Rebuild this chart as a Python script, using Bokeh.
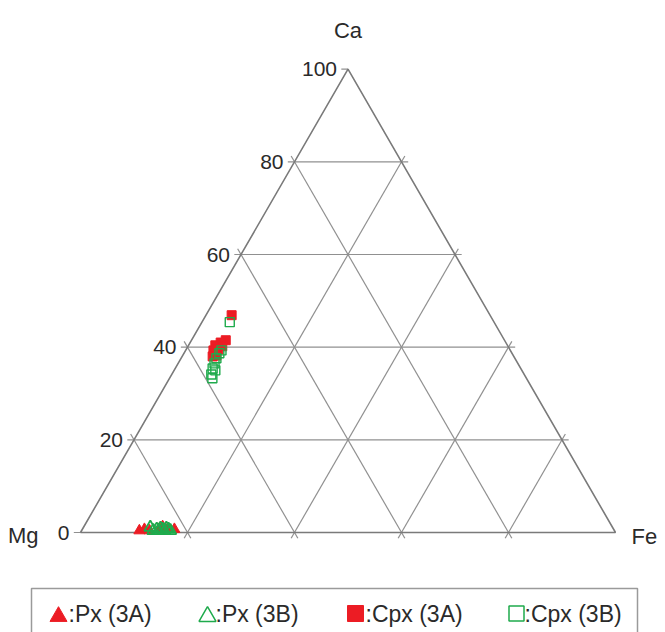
import math
from bokeh.plotting import figure
from bokeh.models import Range1d
from bokeh.core.properties import value
from bokeh.embed import file_html
from bokeh.resources import INLINE

# ---------------- data (wt. % Ca / Fe, Mg = 100 - Ca - Fe) ----------------
px3a_ca = [0.4, 0.7, 0.4, 0.7, 1.3, 0.7, 0.7]
px3a_fe = [10.8, 11.6, 12.7, 14.3, 14.7, 15.9, 17.2]

px3b_ca = [1.1, 0.4, 0.7, 0.4, 0.9, 0.7, 0.4, 0.9, 0.7, 0.4]
px3b_fe = [12.5, 13.4, 13.9, 14.4, 14.5, 15.0, 15.5, 15.6, 16.1, 16.6]

cpx3a_ca = [46.9, 41.5, 41.0, 40.4, 40.2, 39.3, 39.5, 38.0, 38.2]
cpx3a_fe = [4.8, 6.4, 5.7, 5.0, 6.4, 5.2, 6.0, 5.7, 6.3]

cpx3b_ca = [45.4, 38.7, 37.6, 36.5, 35.4, 35.0, 34.1, 33.3, 39.3]
cpx3b_fe = [5.2, 6.6, 6.6, 6.8, 7.0, 7.7, 7.4, 8.0, 6.7]

tick_values = [0, 20, 40, 60, 80, 100]
tick_labels = ["0", "20", "40", "60", "80", "100"]
grid_levels = [20, 40, 60, 80]
vertex_labels = ["Mg", "Fe", "Ca"]
legend_labels = [":Px (3A)", ":Px (3B)", ":Cpx (3A)", ":Cpx (3B)"]

RED = "#ec1c24"
GREEN = "#1faa4c"
GRID = "#909090"
EDGE = "#7a7a7a"
TXT = "#2a2a2a"
FONT = value("Liberation Sans")

H = math.sqrt(3) / 2


def tern(ca, fe):
    """ternary -> cartesian (Mg at origin, Fe at (100,0), Ca at top)"""
    xs = [f + c / 2 for c, f in zip(ca, fe)]
    ys = [c * H for c in ca]
    return xs, ys


# ---------------- figure ----------------
W, HT = 665, 632
PXU = 5.35  # pixels per unit
x0 = -80 / PXU
y0 = -(HT - 532) / PXU
p = figure(width=W, height=HT, output_backend="svg", toolbar_location=None,
           x_range=Range1d(x0, x0 + W / PXU), y_range=Range1d(y0, y0 + HT / PXU),
           x_axis_type=None, y_axis_type=None, min_border=0,
           outline_line_color=None, background_fill_color="white")
p.grid.visible = False


def to_data(px, py):
    """picture pixel -> data units (for legend / label layout only)"""
    return (px - 80) / PXU, (532 - py) / PXU


t = 1.25  # tick extension beyond edges (units)

# Ca lines (horizontal)
gx, gy = [], []
for c in tick_values:
    xl = c / 2
    xr = 100 - c / 2
    ext_r = t if 0 < c < 100 else 0
    gx.append([xl - t, xr + ext_r])
    gy.append([c * H, c * H])
# Fe lines (parallel to left edge)
for f in grid_levels:
    ax, ay = f, 0
    bx, by = f + (100 - f) / 2, (100 - f) * H
    gx.append([ax - 0.5 * t, bx + 0.5 * t])
    gy.append([ay - H * t, by + H * t])
# Mg lines (parallel to right edge)
for m in grid_levels:
    ax, ay = (100 - m) / 2, (100 - m) * H
    bx, by = 100 - m, 0
    gx.append([ax - 0.5 * t, bx + 0.5 * t])
    gy.append([ay + H * t, by - H * t])
p.multi_line(gx, gy, line_color=GRID, line_width=1.2)

# triangle edges
p.line([0, 100, 50, 0], [0, 0, 100 * H, 0], line_color=EDGE, line_width=1.6)

# ---------------- data markers ----------------
x, y = tern(px3a_ca, px3a_fe)
p.scatter(x, y, marker="triangle", size=11, fill_color=RED, line_color=RED)
x, y = tern(cpx3a_ca, cpx3a_fe)
p.scatter(x, y, marker="square", size=9, fill_color=RED, line_color=RED)
x, y = tern(px3b_ca, px3b_fe)
p.scatter(x, y, marker="triangle", size=12, fill_color=None, line_color=GREEN, line_width=1.8)
x, y = tern(cpx3b_ca, cpx3b_fe)
p.scatter(x, y, marker="square", size=9, fill_color=None, line_color=GREEN, line_width=1.4)

# ---------------- texts ----------------
tx = [c / 2 for c in tick_values]
ty = [c * H for c in tick_values]
p.text(tx, ty, text=tick_labels, x_offset=-11, text_align="right", text_baseline="middle",
       text_font=FONT, text_font_size="21px", text_color=TXT)

vx = [0, 100, 50]
vy = [0, 0, 100 * H]
p.text([vx[0]], [vy[0]], text=[vertex_labels[0]], x_offset=-42, y_offset=3,
       text_align="right", text_baseline="middle", text_font=FONT, text_font_size="22px", text_color=TXT)
p.text([vx[1]], [vy[1]], text=[vertex_labels[1]], x_offset=16, y_offset=4,
       text_align="left", text_baseline="middle", text_font=FONT, text_font_size="22px", text_color=TXT)
p.text([vx[2]], [vy[2]], text=[vertex_labels[2]], y_offset=-39,
       text_align="center", text_baseline="middle", text_font=FONT, text_font_size="22px", text_color=TXT)

# ---------------- legend (drawn manually) ----------------
bl, bt = to_data(31, 588)
br, bb = to_data(637, 660)
p.quad(left=[bl], right=[br], top=[bt], bottom=[bb], fill_color=None,
       line_color="#9a9a9a", line_width=1.5)

mk_px = [58, 207, 355, 516]
txt_px = [68, 215, 365, 524]
mk_x = [to_data(v, 0)[0] for v in mk_px]
txt_x = [to_data(v, 0)[0] for v in txt_px]
ly_tri = to_data(0, 616)[1]
ly_sq = to_data(0, 613)[1]
ly_txt = to_data(0, 613)[1]

p.scatter([mk_x[0]], [ly_tri], marker="triangle", size=17, fill_color=RED, line_color=RED)
p.scatter([mk_x[1]], [ly_tri], marker="triangle", size=17, fill_color=None, line_color=GREEN, line_width=1.5)
p.scatter([mk_x[2]], [ly_sq], marker="square", size=16, fill_color=RED, line_color=RED)
p.scatter([mk_x[3]], [ly_sq], marker="square", size=15, fill_color=None, line_color=GREEN, line_width=1.5)
p.text(txt_x, [ly_txt] * 4, text=legend_labels, text_align="left", text_baseline="middle",
       text_font=FONT, text_font_size="23px", text_color=TXT)

open("out.html", "w").write(file_html(p, INLINE))
